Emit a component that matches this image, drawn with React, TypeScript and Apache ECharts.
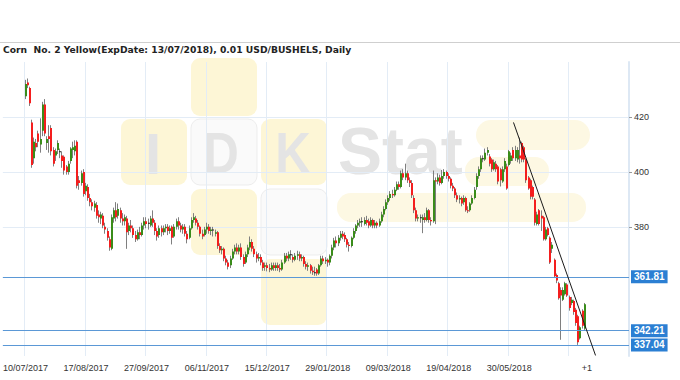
import React, { useEffect, useRef } from "react";
import * as echarts from "echarts";

const chartTitle = "Corn  No. 2 Yellow(ExpDate: 13/07/2018), 0.01 USD/BUSHELS, Daily";
const dateLabels = [
  "10/07/2017", "17/08/2017", "27/09/2017", "06/11/2017", "15/12/2017",
  "29/01/2018", "09/03/2018", "19/04/2018", "30/05/2018",
];
const futureLabel = "+1";
const TICK_STEP = 28;
const PAD_LEFT = 10;
const PAD_RIGHT = 20;
const priceLevels = [361.81, 342.21, 337.04];
const gridValues = [380, 400, 420];
const yRange = [333, 440];
// trend line: [candle index, price]
const trendLine = [
  [226, 418.0],
  [264, 333.2],
];

// [open, close, low, high] per daily candle
const ohlc: number[][] = [
  [427.5, 432, 426.5, 433.5], [432.5, 431.5, 430.5, 434], [430.5, 425, 424, 431], [418, 402.5, 401.5, 419],
  [405, 411, 403, 412.5], [410.5, 409, 407.5, 412], [414, 411, 409, 415], [410, 412, 407, 419.5],
  [415, 424.5, 413, 425.5], [424.5, 414, 413, 426.5], [410.5, 412, 408, 413], [413, 412, 407, 417],
  [416, 407.5, 406, 417], [408, 403, 402, 409], [406, 407.5, 404, 408.5], [408, 410.5, 406.5, 411.5],
  [407.5, 407.5, 405, 408.5], [406, 404, 401.5, 407.5], [405.5, 400.5, 399, 406], [402, 400, 399, 402.5],
  [400, 403, 399, 404], [404, 408.5, 403, 409], [408, 409, 405, 411], [407.5, 409.5, 406, 411.5],
  [411, 395, 394, 411.5], [397, 396, 393.5, 398.5], [396, 399.5, 395, 400.5], [400, 392, 391, 401],
  [393, 395, 391.5, 396], [394.5, 390.5, 389.5, 395.5], [390.5, 389, 387.5, 392], [389, 387.5, 386, 390],
  [387, 388.5, 385.5, 389.5], [388, 384, 383, 389], [384.5, 383.5, 381.5, 386], [383, 384.5, 381, 385.5],
  [384, 380.5, 379.5, 385], [380, 379, 377.5, 381.5], [378.5, 376, 375, 379.5], [375.5, 372.5, 371.3, 376.5],
  [372, 383.5, 371.5, 384.5], [383, 386, 381.5, 387], [386, 383.5, 382, 389], [384, 386.5, 383, 388.5],
  [386, 383, 381.5, 387], [383, 382, 380.5, 385], [382, 383.5, 380.5, 384.5], [383, 378, 372, 384],
  [378.5, 380.5, 377, 381.5], [380.5, 379.5, 378, 382.5], [379.5, 377, 376, 380.5], [377, 375.5, 374.5, 378.5],
  [375.5, 378, 375, 379], [378, 377, 375.5, 380], [377, 380.5, 376.5, 381.5], [380.5, 382, 379, 383.5],
  [382, 381, 379.5, 383.5], [381.5, 381.5, 379, 383], [380.5, 383, 380, 384], [383, 381.5, 380, 386],
  [381.5, 378.5, 377, 382.5], [378.5, 376.5, 375, 379.5], [377, 379.5, 376, 380.5], [379.5, 378, 376.5, 380.5],
  [378, 379.5, 377, 380.5], [379.5, 380, 378, 381], [380, 378.5, 377, 381], [378.5, 379.5, 377.5, 380.5],
  [380, 376, 373.6, 380.5], [376.5, 380, 376, 381], [380, 382, 379, 383], [382, 380.5, 379, 383.5],
  [380.5, 379, 378, 381.5], [379, 380, 377.5, 381], [380, 377.5, 376.5, 381], [377.5, 375.5, 374, 378.5],
  [376, 379.5, 375.5, 380.5], [379.5, 382.5, 379, 383.5], [382.5, 383.5, 381.5, 385], [383, 381.5, 380.5, 384],
  [381.5, 380, 379, 382.5], [380, 377.5, 376.5, 380.5], [377.5, 376.5, 375.5, 379], [377, 379, 376.5, 380],
  [379, 380, 377.5, 381.5], [380, 378.5, 377.5, 381], [378.5, 379, 377, 380], [379, 379, 376.5, 380],
  [377.5, 378, 376.5, 379], [378, 373, 372, 378.5], [373, 371.5, 370.5, 374], [371.5, 372, 370, 373],
  [372, 368.5, 367.5, 372.5], [368.5, 367, 366, 369.5], [367, 365.5, 364.5, 368], [366, 368.5, 365, 369.5],
  [368.5, 371, 368, 372], [371, 372.5, 370, 373.5], [372.5, 371, 370, 374], [371, 372.5, 370, 373.5],
  [372.5, 369, 368, 374], [369, 366.5, 365.5, 370], [367, 370, 366.5, 371], [370, 372.5, 369, 373.5],
  [372.5, 374.5, 371.5, 376.5], [374.5, 372, 371, 375.5], [372, 370, 369, 373], [370, 368.5, 367, 371],
  [368.5, 369, 367.5, 370.5], [369, 367, 366, 370], [367, 365, 364, 368], [365.5, 366, 364, 367],
  [366, 365, 363.8, 367], [365, 364.5, 363.5, 366.5], [364.5, 366, 364, 367], [366, 365, 364, 367],
  [365, 366, 364, 367], [366, 365, 364, 367], [365, 364.5, 363.5, 366.5], [364.5, 367, 364, 368],
  [367, 369.5, 366.5, 370.5], [369.5, 368.5, 367.5, 370.5], [368.5, 370, 367.5, 371], [370, 370, 368, 371.5],
  [369, 368, 367, 370], [368, 369.5, 367.5, 370.5], [369.5, 370, 368, 371.3], [370, 368.5, 367.5, 371],
  [368.5, 369, 367.5, 370], [369, 366.5, 365.5, 369.5], [366.5, 365.5, 364.5, 367.5], [365.5, 366, 364, 367],
  [366, 364, 363, 366.5], [364, 363.5, 362.5, 365.5], [363.5, 363.5, 362.2, 365.5], [364.5, 363, 362.2, 365],
  [363, 366, 362.5, 366.5], [366, 368.5, 365.5, 369.5], [368.5, 367.5, 366.5, 369.5], [367.5, 368, 366.5, 369],
  [368, 367, 365.5, 368.5], [367, 369.5, 366, 370], [369.5, 372.5, 368.5, 373.5], [372.5, 375, 371.5, 376],
  [375, 374, 372.5, 376.5], [374, 376, 373, 377], [376, 377.5, 375, 378.5], [377.5, 376.5, 375.5, 378.5],
  [377, 375.5, 374.5, 378], [375.5, 373.5, 372.5, 376], [373.5, 373, 371, 374.5], [373, 376, 372.5, 376.5],
  [376, 378.5, 375.5, 379.5], [378.5, 380.5, 377.5, 381], [380.5, 381.5, 379.5, 382.5], [381.5, 382, 380, 383],
  [382, 382, 380, 383.5], [381, 382.5, 380.5, 383.5], [382.5, 381.5, 380.5, 384], [382, 380.5, 379.5, 383],
  [380.5, 382.5, 380, 383.5], [382.5, 380.5, 379.5, 383], [380.5, 381.5, 379.5, 382.5], [381.5, 380.5, 379.5, 382],
  [380.5, 382, 380, 383], [382, 384.5, 381.5, 385.5], [384.5, 386.5, 383.5, 387.5], [386.5, 389, 386, 390],
  [389, 390.5, 388, 391.5], [390.5, 392, 389.5, 393], [392, 391.5, 390.5, 393.5], [391.5, 393.5, 391, 394.5],
  [393.5, 395.5, 393, 396.5], [395.5, 394.5, 393.5, 396.5], [394.5, 399.5, 394, 400.5], [399.5, 398, 397, 401],
  [398, 399.5, 397, 403], [399.5, 397, 396, 400.5], [397, 396, 394.5, 398], [396, 391.5, 390.5, 397],
  [390.5, 386, 385, 391.5], [386, 383, 382, 387], [383, 383.5, 382, 384.5], [383.5, 383.5, 381.5, 384.5],
  [382.5, 383.5, 377.7, 384.5], [383.5, 382.5, 381.5, 385], [382.5, 386, 382, 387], [386, 382.5, 381.5, 386.5],
  [382.5, 382, 380.5, 383.5], [382, 397, 381.5, 400.5], [397, 396.5, 381, 398], [396.5, 398, 395.5, 399.5],
  [398, 396, 395, 399], [396, 398.5, 395.5, 400.7], [398.5, 400, 397.5, 401], [400, 398.5, 397.5, 400.5],
  [398.5, 397.5, 396.5, 399.5], [397.5, 395, 394, 398], [395, 394, 393, 396], [394, 391.5, 390.5, 394.5],
  [391.5, 390, 389, 392.5], [390, 390.5, 388.5, 391.5], [390.5, 388.5, 387.5, 391], [389, 390.5, 388, 391.5],
  [390.5, 386, 385.5, 391], [386, 385.8, 385, 387.5], [386, 388.5, 385.5, 389], [388.5, 390.5, 388, 391.5],
  [390.5, 393.5, 390, 394.5], [394.5, 398.5, 393.5, 399.5], [398.5, 401, 397.5, 402], [401, 405, 400, 406],
  [405, 405, 403.5, 406], [404.5, 407, 404, 408.5], [407, 408, 406, 409], [405.6, 403, 402, 406.5],
  [404.5, 401, 400, 405], [401, 403.5, 400.5, 404.5], [403, 401, 400, 404], [402, 396.5, 395.5, 402.5],
  [401, 397, 394.7, 401.5], [396.5, 401, 396, 402], [401, 404, 400, 405], [402, 394, 393.5, 403],
  [402.5, 407.5, 402, 408], [404, 406, 403, 407], [408, 405, 404, 409], [405, 408, 404, 409.5],
  [404.5, 408, 403.5, 409], [406, 405, 403, 412.5], [410.5, 404.5, 403.5, 411], [409, 404.5, 403.5, 409.5],
  [404.5, 397, 396, 405], [398, 394, 393.5, 398.5], [397, 391, 390, 397.5], [394.5, 391, 390, 395],
  [390, 381.5, 380.5, 390.5], [381, 384.5, 380.5, 385.5], [386, 381, 380.5, 386.5], [384, 383, 378.5, 386],
  [383.5, 375.5, 375, 384], [375.5, 379, 375, 380], [379.5, 377, 376.5, 380], [376, 367, 366.5, 376.5],
  [372, 373.5, 370.5, 374.5], [368, 362, 361.5, 368.5], [362.5, 360.5, 359.5, 363], [359.5, 354, 353.5, 360],
  [357, 355, 338.9, 358], [353.5, 357, 353, 358], [355.5, 359.5, 355, 360], [359, 355, 354.5, 359.5],
  [354.5, 350.5, 349.5, 355], [352.3, 353.5, 351.5, 354.5], [353, 349, 348, 353.5], [349.8, 345, 344, 350.5],
  [347.5, 338, 337.04, 348], [339.5, 343.5, 339, 344], [349.5, 344, 343, 350], [343, 351.8, 342.5, 352.3],
];

const RED = "#f41e1e";
const GREEN = "#3a8c1a";
const WICK = "#7f7f7f";
const DOJI = "#222222";
const FONT = "Liberation Sans";
const TITLE_FONT = "DejaVu Sans";

export default function App() {
  const ref = useRef<HTMLDivElement>(null);

  useEffect(() => {
    if (!ref.current) return;
    const chart = echarts.init(ref.current, undefined, { renderer: "svg" });

    const total = PAD_LEFT + ohlc.length + PAD_RIGHT;
    const labelAt = new Map<number, string>();
    dateLabels.forEach((d, k) => labelAt.set(PAD_LEFT + k * TICK_STEP, d));
    labelAt.set(PAD_LEFT + ohlc.length, futureLabel);
    const categories = Array.from({ length: total }, (_, i) => labelAt.get(i) ?? String(i));
    const gridAt = new Set<number>();
    for (let k = 0; k * TICK_STEP < ohlc.length; k++) gridAt.add(PAD_LEFT + k * TICK_STEP);

    const candleData = ohlc.map((d, i) => [PAD_LEFT + i, d[0], d[1], d[2], d[3]]);

    const yellow = "#fdf6d6";
    const pill = "#fdf8e3";
    const whiteBox = "#fafafa";
    const letter = "#e4e4e4";
    const sq = (x: number, y: number, w: number, h: number, fill: string, stroke?: string) => ({
      type: "rect",
      z: -10,
      silent: true,
      shape: { x, y, width: w, height: h, r: 9 },
      style: { fill, stroke: stroke ?? null, lineWidth: 1 },
    });
    const txt = (x: number, y: number, text: string, size: number, align: string, scaleX = 1) => ({
      type: "text",
      z: -9,
      silent: true,
      x,
      y,
      scaleX,
      style: {
        text,
        fill: letter,
        font: `bold ${size}px "${FONT}"`,
        align,
        verticalAlign: "middle",
      },
    });

    const option: any = {
      animation: false,
      textStyle: { fontFamily: FONT },
      title: {
        text: chartTitle,
        left: 3,
        top: 45,
        padding: 0,
        textStyle: { fontSize: 9.2, fontWeight: "bold", color: "#222", fontFamily: TITLE_FONT },
      },
      graphic: [
        { type: "line", z: -5, silent: true, shape: { x1: 0, y1: 42.5, x2: 680, y2: 42.5 }, style: { stroke: "#cfcfcf", lineWidth: 1 } },
        sq(191, 58, 66, 58, yellow),
        sq(121, 119, 66, 66, yellow),
        sq(191, 119, 66, 66, whiteBox, "#ededed"),
        sq(261, 119, 66, 66, yellow),
        sq(191, 189, 66, 66, yellow),
        sq(261, 189, 66, 66, whiteBox, "#ededed"),
        sq(261, 259, 66, 66, yellow),
        { type: "rect", z: -10, silent: true, shape: { x: 476, y: 120, width: 114, height: 30, r: 15 }, style: { fill: pill } },
        { type: "rect", z: -10, silent: true, shape: { x: 465, y: 157, width: 84, height: 29, r: 14 }, style: { fill: pill } },
        { type: "rect", z: -10, silent: true, shape: { x: 337, y: 193, width: 249, height: 29, r: 14 }, style: { fill: pill } },
        txt(153, 153, "I", 58, "center"),
        txt(221, 153, "D", 58, "center", 0.85),
        txt(293, 153, "K", 58, "center", 0.85),
        txt(338, 151, "Stat", 66, "left"),
      ],
      grid: { left: 0, right: 51, top: 62, bottom: 24, containLabel: false },
      xAxis: {
        type: "category",
        data: categories,
        boundaryGap: true,
        axisLine: { show: false },
        axisTick: { show: false },
        axisLabel: {
          interval: (i: number) => labelAt.has(i),
          fontSize: 9,
          color: "#333",
          margin: 7,
          fontFamily: FONT,
        },
        splitLine: {
          show: true,
          interval: (i: number) => gridAt.has(i),
          lineStyle: { color: "#e3ecf6", width: 1 },
        },
      },
      yAxis: {
        type: "value",
        position: "right",
        min: yRange[0],
        max: yRange[1],
        axisLine: { show: true, lineStyle: { color: "#dde8f4", width: 2 } },
        axisTick: { show: true, customValues: gridValues, length: 3, lineStyle: { color: "#999" } },
        axisLabel: { customValues: gridValues, fontSize: 9, color: "#333", margin: 5, fontFamily: FONT },
        splitLine: { show: true, lineStyle: { color: "#e3ecf6", width: 1 } },
      },
      series: [
        {
          type: "custom",
          z: 3,
          silent: true,
          encode: { x: 0, y: [1, 2, 3, 4] },
          data: candleData,
          renderItem: (_params: any, api: any) => {
            const idx = api.value(0);
            const o = api.value(1);
            const c = api.value(2);
            const lo = api.value(3);
            const hi = api.value(4);
            const pO = api.coord([idx, o]);
            const pC = api.coord([idx, c]);
            const pL = api.coord([idx, lo]);
            const pH = api.coord([idx, hi]);
            const cx = Math.round(pO[0]);
            const top = Math.min(pO[1], pC[1]);
            const h = Math.max(Math.abs(pO[1] - pC[1]), 1);
            const color = c > o ? GREEN : c < o ? RED : DOJI;
            return {
              type: "group",
              children: [
                { type: "line", shape: { x1: cx - 0.5, y1: pH[1], x2: cx - 0.5, y2: pL[1] }, style: { stroke: WICK, lineWidth: 1 } },
                { type: "rect", shape: { x: cx - 1, y: top, width: 2, height: h }, style: { fill: color } },
              ],
            };
          },
          markLine: {
            silent: true,
            symbol: "none",
            animation: false,
            data: [
              ...priceLevels.map((v) => ({
                yAxis: v,
                lineStyle: { color: "#5b98d6", width: 1, type: "solid" },
                label: {
                  show: true,
                  position: "end",
                  distance: 2,
                  formatter: (p: any) => Number(p.value).toFixed(2),
                  color: "#fff",
                  backgroundColor: "#2b7fd3",
                  padding: [2, 3, 1, 3],
                  fontSize: 10,
                  fontWeight: "bold",
                  fontFamily: FONT,
                },
              })),
              [
                {
                  coord: [PAD_LEFT + trendLine[0][0], trendLine[0][1]],
                  lineStyle: { color: "#1a1a1a", width: 1, type: "solid" },
                  label: { show: false },
                },
                { coord: [PAD_LEFT + trendLine[1][0], trendLine[1][1]] },
              ],
            ],
          },
        },
      ],
    };

    chart.setOption(option);
    return () => chart.dispose();
  }, []);

  return (
    <div
      ref={ref}
      style={{ position: "absolute", left: 0, top: 0, width: 680, height: 380, background: "#fff" }}
    />
  );
}
